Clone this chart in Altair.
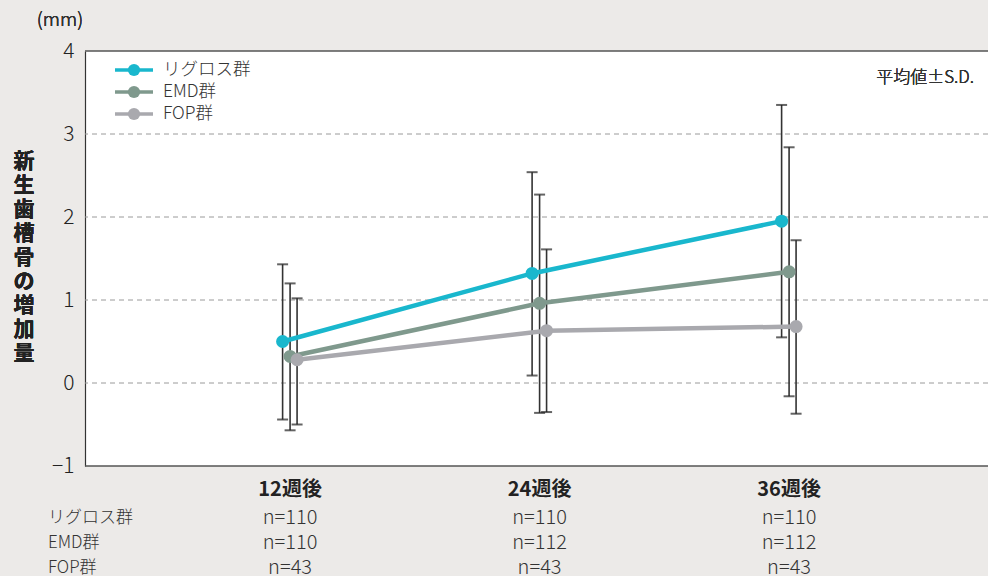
import altair as alt
import pandas as pd

groups = ["リグロス群", "EMD群", "FOP群"]
colors = ["#19B7CD", "#7F998D", "#A9A9AE"]
weeks = ["12週後", "24週後", "36週後"]
week_pos = [1, 2, 3]
group_shift = [-0.03, 0.0, 0.028]

mean_rig = [0.50, 1.32, 1.95]
upper_rig = [1.43, 2.54, 3.35]
lower_rig = [-0.44, 0.09, 0.55]

mean_emd = [0.32, 0.96, 1.34]
upper_emd = [1.20, 2.27, 2.84]
lower_emd = [-0.57, -0.36, -0.16]

mean_fop = [0.28, 0.63, 0.68]
upper_fop = [1.02, 1.61, 1.72]
lower_fop = [-0.50, -0.35, -0.37]

n_rig = ["n=110", "n=110", "n=110"]
n_emd = ["n=110", "n=112", "n=112"]
n_fop = ["n=43", "n=43", "n=43"]

FONT = "Noto Sans CJK JP"
LW = 300
W, H = 903, 415

rows = []
for g, s, m, u, l in zip(groups, group_shift,
                         [mean_rig, mean_emd, mean_fop],
                         [upper_rig, upper_emd, upper_fop],
                         [lower_rig, lower_emd, lower_fop]):
    for wk, p, mv, uv, lv in zip(weeks, week_pos, m, u, l):
        rows.append({"group": g, "week": wk, "x": p + s, "mean": mv, "upper": uv, "lower": lv})
df = pd.DataFrame(rows)

xs = alt.Scale(domain=[0.178, 0.178 + W / 249.5], nice=False, zero=False)
ys = alt.Scale(domain=[-1, 4], nice=False, zero=False)
cs = alt.Scale(domain=groups, range=colors)

base = alt.Chart(df)
X = alt.X("x:Q", scale=xs, axis=None)

err = base.mark_rule(color="#333333", strokeWidth=1.6).encode(
    x=X, y=alt.Y("lower:Q", scale=ys), y2="upper:Q")
cap_hi = base.mark_tick(color="#222222", thickness=2, size=11, orient="horizontal").encode(
    x=X, y=alt.Y("upper:Q", scale=ys))
cap_lo = base.mark_tick(color="#222222", thickness=2, size=11, orient="horizontal").encode(
    x=X, y=alt.Y("lower:Q", scale=ys))

lines = base.mark_line(strokeWidth=4.5).encode(
    x=X, y=alt.Y("mean:Q", scale=ys),
    color=alt.Color("group:N", scale=cs, legend=None), detail="group:N")
points = base.mark_circle(size=170, opacity=1).encode(
    x=X, y=alt.Y("mean:Q", scale=ys),
    color=alt.Color("group:N", scale=cs, legend=None))

# grid + y axis
grid_df = pd.DataFrame({"v": [0, 1, 2, 3]})
grid = alt.Chart(grid_df).mark_rule(color="#9a9a9a", strokeDash=[5, 4], strokeWidth=1).encode(
    y=alt.Y("v:Q", scale=ys,
            axis=alt.Axis(values=[-1, 0, 1, 2, 3, 4], title=None, ticks=False, grid=False,
                          labelFontSize=21, labelColor="#222222", labelFont=FONT,
                          labelFontWeight=LW,
                          labelPadding=11, domainColor="#333333", domainWidth=1.2,
                          format="d")))
border_df = pd.DataFrame({"v": [-1, 4]})
border = alt.Chart(border_df).mark_rule(color="#555555", strokeWidth=1.5).encode(
    y=alt.Y("v:Q", scale=ys))

# legend
leg_df = pd.DataFrame({"group": groups, "row": [0, 1, 2]})
leg_y = alt.Y("row:Q", scale=alt.Scale(domain=[0, 1], range=[19, 41]), axis=None)
leg_line = alt.Chart(leg_df).mark_rule(strokeWidth=3.5).encode(
    x=alt.value(30), x2=alt.value(68), y=leg_y,
    color=alt.Color("group:N", scale=cs, legend=None))
leg_pt = alt.Chart(leg_df).mark_circle(size=150, opacity=1).encode(
    x=alt.value(49), y=leg_y, color=alt.Color("group:N", scale=cs, legend=None))
leg_txt = alt.Chart(leg_df).mark_text(align="left", baseline="middle", fontSize=17.5,
                                      font=FONT, fontWeight=LW, color="#333333").encode(
    x=alt.value(78), y=leg_y, text="group:N")

note = alt.Chart(grid_df).mark_text(text="平均値±S.D.", align="right", baseline="middle",
                                    fontSize=17, font=FONT, fontWeight=LW,
                                    color="#333333").encode(
    x=alt.value(889), y=alt.value(27))
unit = alt.Chart(grid_df).mark_text(text="(mm)", align="center", baseline="middle",
                                    fontSize=19, font=FONT, fontWeight=LW,
                                    color="#333333").encode(
    x=alt.value(-25), y=alt.value(-31))
ytitle = alt.Chart(grid_df).mark_text(text=list("新生歯槽骨の増加量"), align="center",
                                      baseline="middle", fontSize=21, fontWeight="bold",
                                      lineHeight=24, font=FONT, color="#222222").encode(
    x=alt.value(-61), y=alt.value(111))

# bottom table
wk_df = pd.DataFrame({"week": weeks, "x": week_pos})
wk_txt = alt.Chart(wk_df).mark_text(fontSize=20, fontWeight="bold", font=FONT,
                                    color="#222222", baseline="middle").encode(
    x=X, y=alt.value(H + 24), text="week:N")
n_rows = []
for i, (g, ns) in enumerate(zip(groups, [n_rig, n_emd, n_fop])):
    for p, n in zip(week_pos, ns):
        n_rows.append({"group": g, "row": i, "x": p, "n": n})
n_df = pd.DataFrame(n_rows)
row_y = alt.Y("row:Q", scale=alt.Scale(domain=[0, 1], range=[H + 52, H + 77]), axis=None)
n_txt = alt.Chart(n_df).mark_text(fontSize=20, font=FONT, fontWeight=LW, color="#333333",
                                  baseline="middle").encode(x=X, y=row_y, text="n:N")
rlab_df = pd.DataFrame({"group": groups, "row": [0, 1, 2]})
rlab = alt.Chart(rlab_df).mark_text(fontSize=17, font=FONT, fontWeight=LW, color="#333333",
                                    align="left", baseline="middle").encode(
    x=alt.value(-37), y=row_y, text="group:N")

chart = alt.layer(grid, border, err, cap_hi, cap_lo, lines, points,
                  leg_line, leg_pt, leg_txt, note, unit, ytitle, wk_txt, n_txt, rlab
                  ).resolve_scale(y="independent").properties(
    width=W, height=H,
    autosize=alt.AutoSizeParams(type="none"),
    padding={"left": 85, "top": 51, "right": 0, "bottom": 110},
    background="#ECEAE8",
).configure_view(fill="white", stroke=None)

chart.save("out.html", embed_options={"renderer": "svg", "actions": False})
